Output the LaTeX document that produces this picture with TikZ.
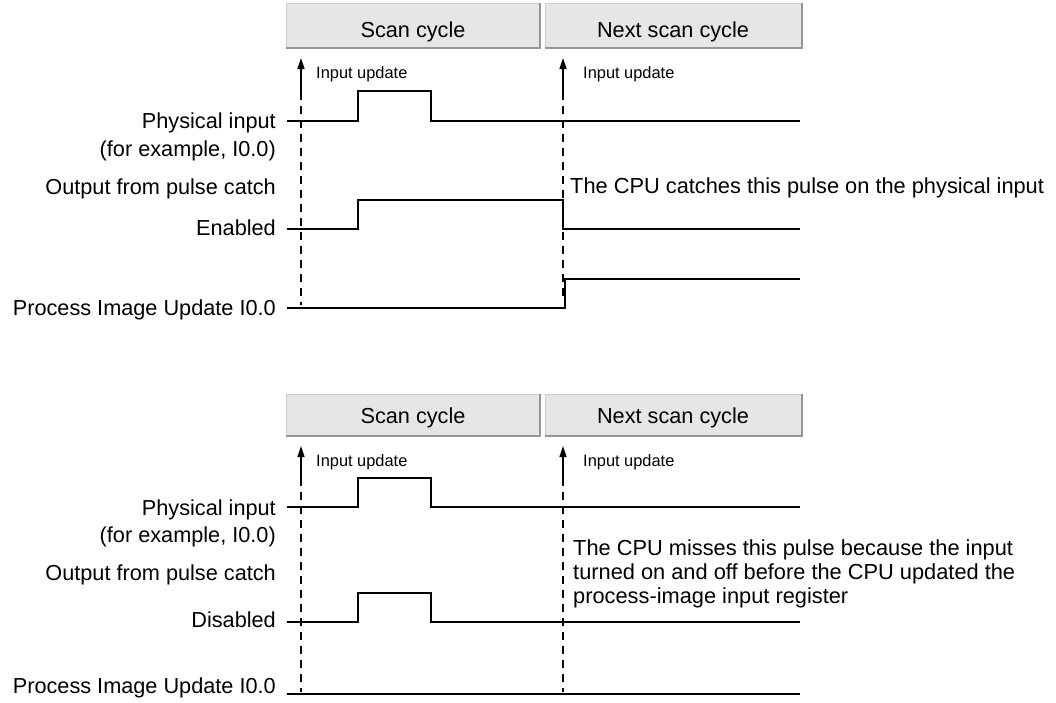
\documentclass[tikz,border=0pt]{standalone}
\usepackage{fontspec}
\setmainfont{Liberation Sans}
\usetikzlibrary{arrows.meta}
\definecolor{hdrfill}{RGB}{230,230,230}
\definecolor{hdrshade}{RGB}{150,150,150}
\definecolor{hdrlight}{RGB}{205,205,205}
\tikzset{
  sig/.style={line width=2.6pt, line join=miter},
  upd/.style={line width=1.3pt, dash pattern=on 8pt off 6pt},
  updarrow/.style={line width=1.3pt, -{Triangle[length=11pt,width=7pt]}},
  lbl/.style={anchor=base east, inner sep=0pt, font=\fontsize{21.7}{24}\selectfont},
  note/.style={anchor=base west, inner sep=0pt, font=\fontsize{21.8}{24}\selectfont},
  small/.style={anchor=base west, inner sep=0pt, font=\fontsize{16.4}{19}\selectfont},
  hdr/.style={anchor=base, inner sep=0pt, font=\fontsize{21.7}{24}\selectfont}
}
\begin{document}
\begin{tikzpicture}[x=1pt,y=-1pt]
\useasboundingbox (0,0) rectangle (1056,702);

% enabled
\fill[hdrfill] (286,3) rectangle (540,48);
\draw[hdrlight, line width=1pt] (286,48) -- (286,3) -- (540,3);
\draw[hdrshade, line width=1.5pt] (540,3) -- (540,48) -- (286,48);
\fill[hdrfill] (545,3) rectangle (802,48);
\draw[hdrlight, line width=1pt] (545,48) -- (545,3) -- (802,3);
\draw[hdrshade, line width=1.5pt] (802,3) -- (802,48) -- (545,48);
\node[hdr] (scanA) at (413,37) {Scan cycle};
\node[hdr] (nextA) at (673,37) {Next scan cycle};

\coordinate (tipA1) at (301,58);
\coordinate (footA1) at (301,92);
\coordinate (endA1) at (301,305);
\coordinate (tipA2) at (563,58);
\coordinate (footA2) at (563,92);
\coordinate (endA2) at (563,300);
\draw[updarrow] (footA1) -- (tipA1);
\draw[updarrow] (footA2) -- (tipA2);
\draw[upd] (footA1) -- (endA1);
\draw[upd] (footA2) -- (endA2);
\node[small] (updA1) at (316,78) {Input update};
\node[small] (updA2) at (583,78) {Input update};

\node[lbl] (physA) at (276,128) {Physical input};
\node[lbl] (exA) at (276,156) {(for example, I0.0)};
\node[lbl] (catchA) at (276,194) {Output from pulse catch};
\node[lbl] (enA) at (276,235) {Enabled};
\node[lbl] (piA) at (276,315) {Process Image Update I0.0};
\node[note] (caught) at (570,193) {The CPU catches this pulse on the physical input};

\draw[sig] (287,121) -- (358,121) -- (358,91) -- (431,91) -- (431,121) -- (800,121);
\draw[sig] (287,229) -- (358,229) -- (358,200) -- (563,200) -- (563,229) -- (800,229);
\draw[sig] (287,308) -- (565,308) -- (565,279) -- (800,279);

% disabled
\fill[hdrfill] (286,394) rectangle (540,436);
\draw[hdrlight, line width=1pt] (286,436) -- (286,394) -- (540,394);
\draw[hdrshade, line width=1.5pt] (540,394) -- (540,436) -- (286,436);
\fill[hdrfill] (545,394) rectangle (802,436);
\draw[hdrlight, line width=1pt] (545,436) -- (545,394) -- (802,394);
\draw[hdrshade, line width=1.5pt] (802,394) -- (802,436) -- (545,436);
\node[hdr] (scanB) at (413,423) {Scan cycle};
\node[hdr] (nextB) at (673,423) {Next scan cycle};

\coordinate (tipB1) at (301,446);
\coordinate (footB1) at (301,478);
\coordinate (endB1) at (301,692);
\coordinate (tipB2) at (563,446);
\coordinate (footB2) at (563,478);
\coordinate (endB2) at (563,692);
\draw[updarrow] (footB1) -- (tipB1);
\draw[updarrow] (footB2) -- (tipB2);
\draw[upd] (footB1) -- (endB1);
\draw[upd] (footB2) -- (endB2);
\node[small] (updB1) at (316,466) {Input update};
\node[small] (updB2) at (583,466) {Input update};

\node[lbl] (physB) at (276,515) {Physical input};
\node[lbl] (exB) at (276,542) {(for example, I0.0)};
\node[lbl] (catchB) at (276,580) {Output from pulse catch};
\node[lbl] (disB) at (276,627) {Disabled};
\node[lbl] (piB) at (276,693) {Process Image Update I0.0};
\node[note] (missA) at (573,555) {The CPU misses this pulse because the input};
\node[note] (missB) at (573,579) {turned on and off before the CPU updated the};
\node[note] (missC) at (573,603) {process-image input register};

\draw[sig] (287,507) -- (358,507) -- (358,478) -- (431,478) -- (431,507) -- (800,507);
\draw[sig] (287,622) -- (358,622) -- (358,593) -- (431,593) -- (431,622) -- (800,622);
\draw[sig] (287,694) -- (800,694);
\end{tikzpicture}
\end{document}
